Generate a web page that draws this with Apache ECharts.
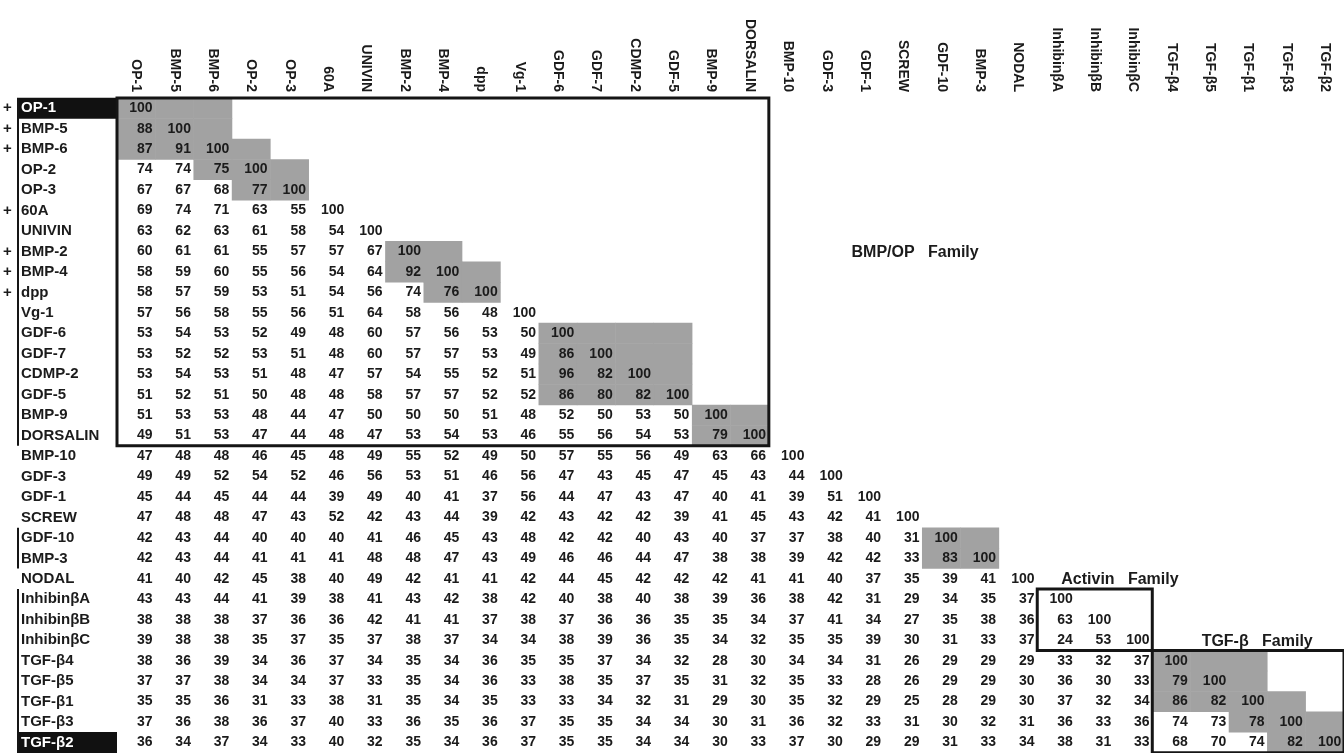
<!DOCTYPE html>
<html>
<head>
<meta charset="utf-8">
<script src="https://cdn.jsdelivr.net/npm/echarts@6/dist/echarts.min.js"></script>
<style>
  html, body { margin: 0; padding: 0; background: #ffffff; }
  #chart { width: 1344px; height: 753px; }
</style>
</head>
<body>
<div id="chart"></div>
<script>
// ---- Data ----
const names = ['OP-1','BMP-5','BMP-6','OP-2','OP-3','60A','UNIVIN','BMP-2','BMP-4','dpp','Vg-1',
  'GDF-6','GDF-7','CDMP-2','GDF-5','BMP-9','DORSALIN','BMP-10','GDF-3','GDF-1','SCREW',
  'GDF-10','BMP-3','NODAL','Inhibin\u03b2A','Inhibin\u03b2B','Inhibin\u03b2C',
  'TGF-\u03b24','TGF-\u03b25','TGF-\u03b21','TGF-\u03b23','TGF-\u03b22'];

// lower-triangle percent identities, row by row
const bmpRows = [
  [100],
  [88,100],
  [87,91,100],
  [74,74,75,100],
  [67,67,68,77,100],
  [69,74,71,63,55,100],
  [63,62,63,61,58,54,100],
  [60,61,61,55,57,57,67,100],
  [58,59,60,55,56,54,64,92,100],
  [58,57,59,53,51,54,56,74,76,100],
  [57,56,58,55,56,51,64,58,56,48,100],
  [53,54,53,52,49,48,60,57,56,53,50,100],
  [53,52,52,53,51,48,60,57,57,53,49,86,100],
  [53,54,53,51,48,47,57,54,55,52,51,96,82,100],
  [51,52,51,50,48,48,58,57,57,52,52,86,80,82,100],
  [51,53,53,48,44,47,50,50,50,51,48,52,50,53,50,100],
  [49,51,53,47,44,48,47,53,54,53,46,55,56,54,53,79,100]
];
const otherRows = [
  [47,48,48,46,45,48,49,55,52,49,50,57,55,56,49,63,66,100],
  [49,49,52,54,52,46,56,53,51,46,56,47,43,45,47,45,43,44,100],
  [45,44,45,44,44,39,49,40,41,37,56,44,47,43,47,40,41,39,51,100],
  [47,48,48,47,43,52,42,43,44,39,42,43,42,42,39,41,45,43,42,41,100],
  [42,43,44,40,40,40,41,46,45,43,48,42,42,40,43,40,37,37,38,40,31,100],
  [42,43,44,41,41,41,48,48,47,43,49,46,46,44,47,38,38,39,42,42,33,83,100],
  [41,40,42,45,38,40,49,42,41,41,42,44,45,42,42,42,41,41,40,37,35,39,41,100]
];
const activinRows = [
  [43,43,44,41,39,38,41,43,42,38,42,40,38,40,38,39,36,38,42,31,29,34,35,37,100],
  [38,38,38,37,36,36,42,41,41,37,38,37,36,36,35,35,34,37,41,34,27,35,38,36,63,100],
  [39,38,38,35,37,35,37,38,37,34,34,38,39,36,35,34,32,35,35,39,30,31,33,37,24,53,100]
];
const tgfRows = [
  [38,36,39,34,36,37,34,35,34,36,35,35,37,34,32,28,30,34,34,31,26,29,29,29,33,32,37,100],
  [37,37,38,34,34,37,33,35,34,36,33,38,35,37,35,31,32,35,33,28,26,29,29,30,36,30,33,79,100],
  [35,35,36,31,33,38,31,35,34,35,33,33,34,32,31,29,30,35,32,29,25,28,29,30,37,32,34,86,82,100],
  [37,36,38,36,37,40,33,36,35,36,37,35,35,34,34,30,31,36,32,33,31,30,32,31,36,33,36,74,73,78,100],
  [36,34,37,34,33,40,32,35,34,36,37,35,35,34,34,30,33,37,30,29,29,31,33,34,38,31,33,68,70,74,82,100]
];

// shaded pairs [row, col] (mirrored in drawing, diagonal added)
const shadedPairs = [[1,0],[2,0],[2,1],[3,2],[4,3],[8,7],[9,8],
  [12,11],[13,11],[13,12],[14,11],[14,12],[14,13],[15,16],[22,21],
  [28,27],[29,27],[29,28],[30,29],[31,30]];

// family boxes [colStart,rowStart,colEnd,rowEnd]
const familyBoxes = [[0,0,16,16],[24,24,26,26],[27,27,31,31]];
// row brackets [rowStart,rowEnd]
const brackets = [[0,16],[21,22],[24,31]];
const plusRows = ['OP-1','BMP-5','BMP-6','60A','BMP-2','BMP-4','dpp'];
const highlightRows = ['OP-1','TGF-\u03b22'];
// family titles [col,row,text]
const familyTitles = [[19,7,'BMP/OP   Family'],[24,23,'Activin   Family'],[28,26,'TGF-\u03b2   Family']];

// ---- Build ----
const allRows = bmpRows.concat(otherRows, activinRows, tgfRows);
const valueData = [];
allRows.forEach((row, r) => row.forEach((v, c) => valueData.push([c, r, v])));

const shadeSet = {};
shadedPairs.forEach(([a, b]) => {
  shadeSet[a + ',' + b] = 1;
  shadeSet[b + ',' + a] = 1;
  shadeSet[a + ',' + a] = 1;
  shadeSet[b + ',' + b] = 1;
});
const shadeData = Object.keys(shadeSet).map(k => { const [r, c] = k.split(',').map(Number); return [c, r, 1]; });

const FONT = 'Liberation Sans, Arial, sans-serif';
const INK = '#1b1b1b';

const chart = echarts.init(document.getElementById('chart'), null, { renderer: 'canvas' });
chart.setOption({
  backgroundColor: '#ffffff',
  animation: false,
  grid: { left: 117, top: 98, width: 1228, height: 658, containLabel: false },
  xAxis: {
    type: 'category', data: names, position: 'top',
    axisLine: { show: false }, axisTick: { show: false }, splitLine: { show: false },
    axisLabel: { interval: 0, rotate: 90, margin: 6, fontFamily: FONT, fontWeight: 'bold', fontSize: 14, color: INK }
  },
  yAxis: {
    type: 'category', data: names, inverse: true,
    axisLine: { show: false }, axisTick: { show: false }, splitLine: { show: false },
    axisLabel: {
      interval: 0, margin: 114, align: 'left',
      formatter: v => (plusRows.includes(v) ? '{p|+}' : '{p| }') +
        (highlightRows.includes(v) ? '{h|' + v + '}' : '{n|' + v + '}'),
      rich: {
        p: { width: 14, fontFamily: FONT, fontWeight: 'bold', fontSize: 15, color: INK },
        n: { width: 96, padding: [0, 0, 0, 4], fontFamily: FONT, fontWeight: 'bold', fontSize: 15, color: INK },
        h: { width: 96, padding: [0, 0, 0, 4], height: 21, lineHeight: 21, backgroundColor: '#111111',
             fontFamily: FONT, fontWeight: 'bold', fontSize: 15, color: '#ffffff' }
      }
    }
  },
  series: [
    {
      type: 'heatmap', data: shadeData, silent: true,
      itemStyle: { color: '#a2a2a2' }, emphasis: { disabled: true }, label: { show: false }
    },
    {
      type: 'heatmap', data: valueData, silent: true,
      itemStyle: { color: 'rgba(0,0,0,0)' }, emphasis: { disabled: true },
      label: { show: true, position: 'insideRight', distance: 3, formatter: p => p.value[2],
               fontFamily: FONT, fontWeight: 'bold', fontSize: 14, color: INK }
    },
    {
      type: 'custom', silent: true, clip: false, z: 5,
      data: familyBoxes.map((b, i) => [b[0], b[1], i]),
      renderItem: (params, api) => {
        const b = familyBoxes[params.dataIndex];
        const p0 = api.coord([b[0], b[1]]), p1 = api.coord([b[2], b[3]]), s = api.size([1, 1]);
        return { type: 'rect',
          shape: { x: p0[0] - s[0] / 2, y: p0[1] - s[1] / 2, width: p1[0] - p0[0] + s[0], height: p1[1] - p0[1] + s[1] },
          style: { fill: 'none', stroke: '#151515', lineWidth: 3 } };
      }
    },
    {
      type: 'custom', silent: true, clip: false, z: 1,
      data: brackets.map((b, i) => [0, b[0], i]),
      renderItem: (params, api) => {
        const b = brackets[params.dataIndex];
        const p0 = api.coord([0, b[0]]), p1 = api.coord([0, b[1]]), s = api.size([1, 1]);
        const x = p0[0] - s[0] / 2 - 99;
        return { type: 'line',
          shape: { x1: x, y1: p0[1] - s[1] / 2, x2: x, y2: p1[1] + s[1] / 2 },
          style: { stroke: '#151515', lineWidth: 2 } };
      }
    },
    {
      type: 'custom', silent: true, clip: false, z: 6,
      data: familyTitles.map((t, i) => [t[0], t[1], i]),
      renderItem: (params, api) => {
        const t = familyTitles[params.dataIndex];
        const p = api.coord([t[0], t[1]]), s = api.size([1, 1]);
        const dx = [6, 24, 11][params.dataIndex];
        return { type: 'text',
          style: { x: p[0] - s[0] / 2 + dx, y: p[1] + 1, text: t[2], align: 'left', verticalAlign: 'middle',
                   font: 'bold 16px ' + FONT, fill: INK } };
      }
    }
  ]
});
</script>
</body>
</html>
